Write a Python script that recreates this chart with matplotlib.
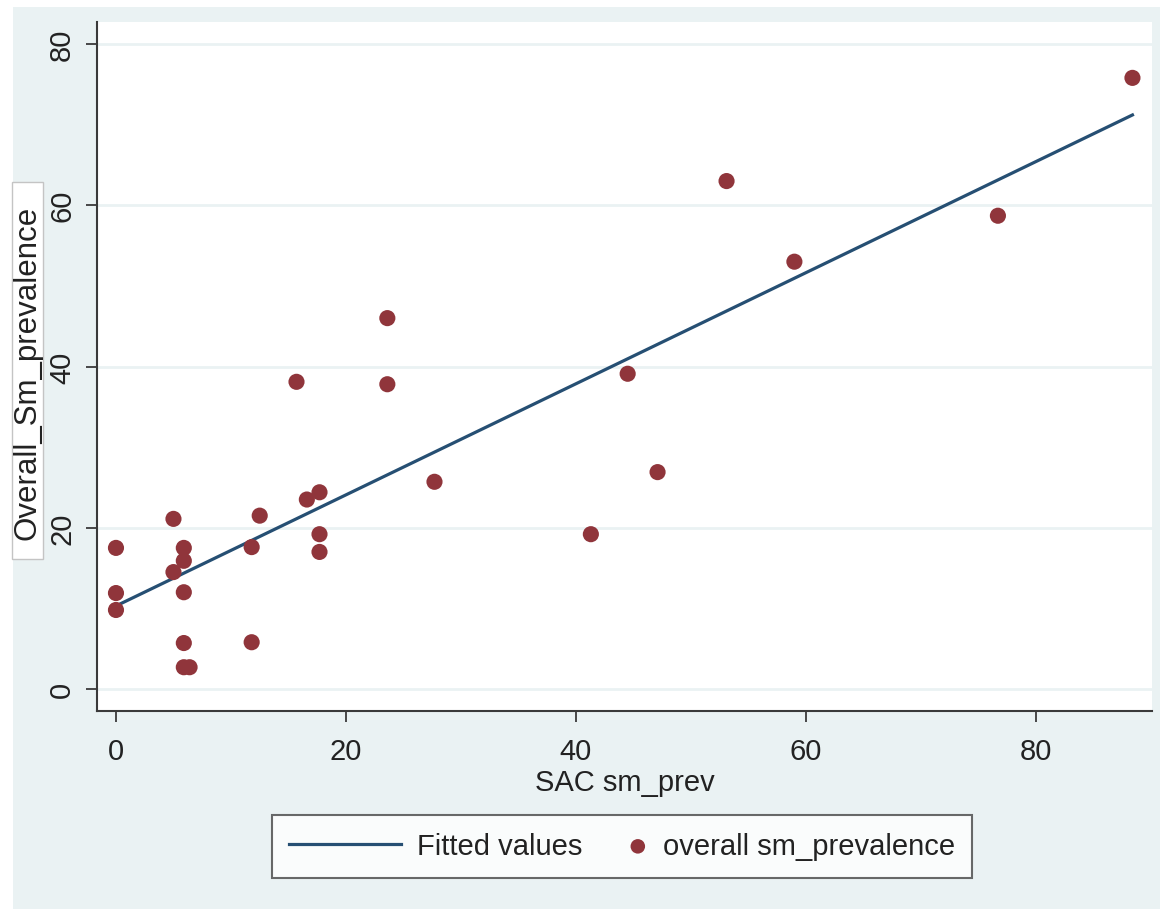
import numpy as np
import matplotlib.pyplot as plt
from matplotlib.patches import Rectangle
from matplotlib.collections import PathCollection
from matplotlib.legend_handler import HandlerPathCollection

# SAC sm_prev vs overall sm_prevalence
sac_prev = [0, 0, 0, 5.0, 5.0, 5.9, 5.9, 5.9, 5.9, 5.9, 6.4,
            11.8, 12.5, 11.8, 16.6, 17.7, 17.7, 17.7, 15.7, 23.6, 23.6,
            27.7, 44.5, 47.1, 41.3, 53.1, 59.0, 76.7, 88.4]
overall_prev = [17.5, 11.9, 9.8, 21.1, 14.5, 17.5, 15.9, 12.0, 5.7, 2.7, 2.7,
                17.6, 21.5, 5.8, 23.5, 24.4, 19.2, 17.0, 38.1, 46.0, 37.8,
                25.7, 39.1, 26.9, 19.2, 63.0, 53.0, 58.7, 75.8]

# fitted line end points
fit_x = [0, 88.4]
fit_y = [10.3, 71.2]

xticks = [0, 20, 40, 60, 80]
yticks = [0, 20, 40, 60, 80]

bg = '#EAF2F3'
navy = '#264F73'
maroon = '#90353B'
W, H = 1160, 912


# legend marker sits at the right end of its handle box (Stata style)
class RightMarker(HandlerPathCollection):
    def get_xdata(self, legend, xdescent, ydescent, width, height, fontsize):
        x = -xdescent + width - 0.3 * fontsize
        return [x], [x]


plt.rcParams['font.family'] = ['Liberation Sans', 'DejaVu Sans']

fig = plt.figure(figsize=(W / 100, H / 100), dpi=100, facecolor='white')
fig.patches.append(Rectangle((13 / W, 2 / H), 1 - 13 / W, 1 - 10 / H,
                             transform=fig.transFigure, facecolor=bg,
                             edgecolor='none', zorder=-10))

ax = fig.add_axes([97 / W, 1 - 712 / H, (1152 - 97) / W, (712 - 23) / H])
ax.set_facecolor('white')

ax.plot(fit_x, fit_y, color=navy, lw=2.3, label='Fitted values', zorder=3)
ax.scatter(sac_prev, overall_prev, s=135, color=maroon, edgecolors='none',
           label='overall sm_prevalence', zorder=4)

ax.set_xlim(-1.65, 90.1)
ax.set_ylim(-2.73, 82.73)
ax.set_xticks(xticks)
ax.set_yticks(yticks)
ax.grid(axis='y', color=bg, lw=2)
ax.set_axisbelow(True)

for s in ['top', 'right']:
    ax.spines[s].set_visible(False)
for s in ['left', 'bottom']:
    ax.spines[s].set_color('#3a3a3a')
    ax.spines[s].set_linewidth(1.5)

ax.tick_params(axis='both', colors='#3a3a3a', labelcolor='#222222',
               labelsize=21, length=8, width=1.3)
ax.tick_params(axis='x', pad=11)
ax.tick_params(axis='y', pad=7)
for lab in ax.get_yticklabels():
    lab.set_rotation(90)
    lab.set_va('center')

ax.set_xlabel('SAC sm_prev', fontsize=21, color='#222222', labelpad=2)

# y title in its own white box
fig.patches.append(Rectangle((12 / W, 1 - 560 / H), 31 / W, 377 / H,
                             transform=fig.transFigure, facecolor='white',
                             edgecolor='#c4c4c4', lw=1, zorder=1))
fig.text(27.5 / W, 1 - 373 / H, 'Overall_Sm_prevalence', rotation=90,
         ha='center', va='center', fontsize=22.5, color='#222222', zorder=2)

leg = fig.legend(loc='center', bbox_to_anchor=(622 / W, 1 - 847 / H),
                 ncol=2, fontsize=21, frameon=True, fancybox=False,
                 handlelength=3.84, columnspacing=-1.65, handletextpad=0.55,
                 borderpad=0.6, markerscale=0.9,
                 handler_map={PathCollection: RightMarker()})
leg.get_frame().set_edgecolor('#444444')
leg.get_frame().set_linewidth(1.5)
for t in leg.get_texts():
    t.set_color('#222222')

fig.savefig('out.png', dpi=100, facecolor=fig.get_facecolor())
